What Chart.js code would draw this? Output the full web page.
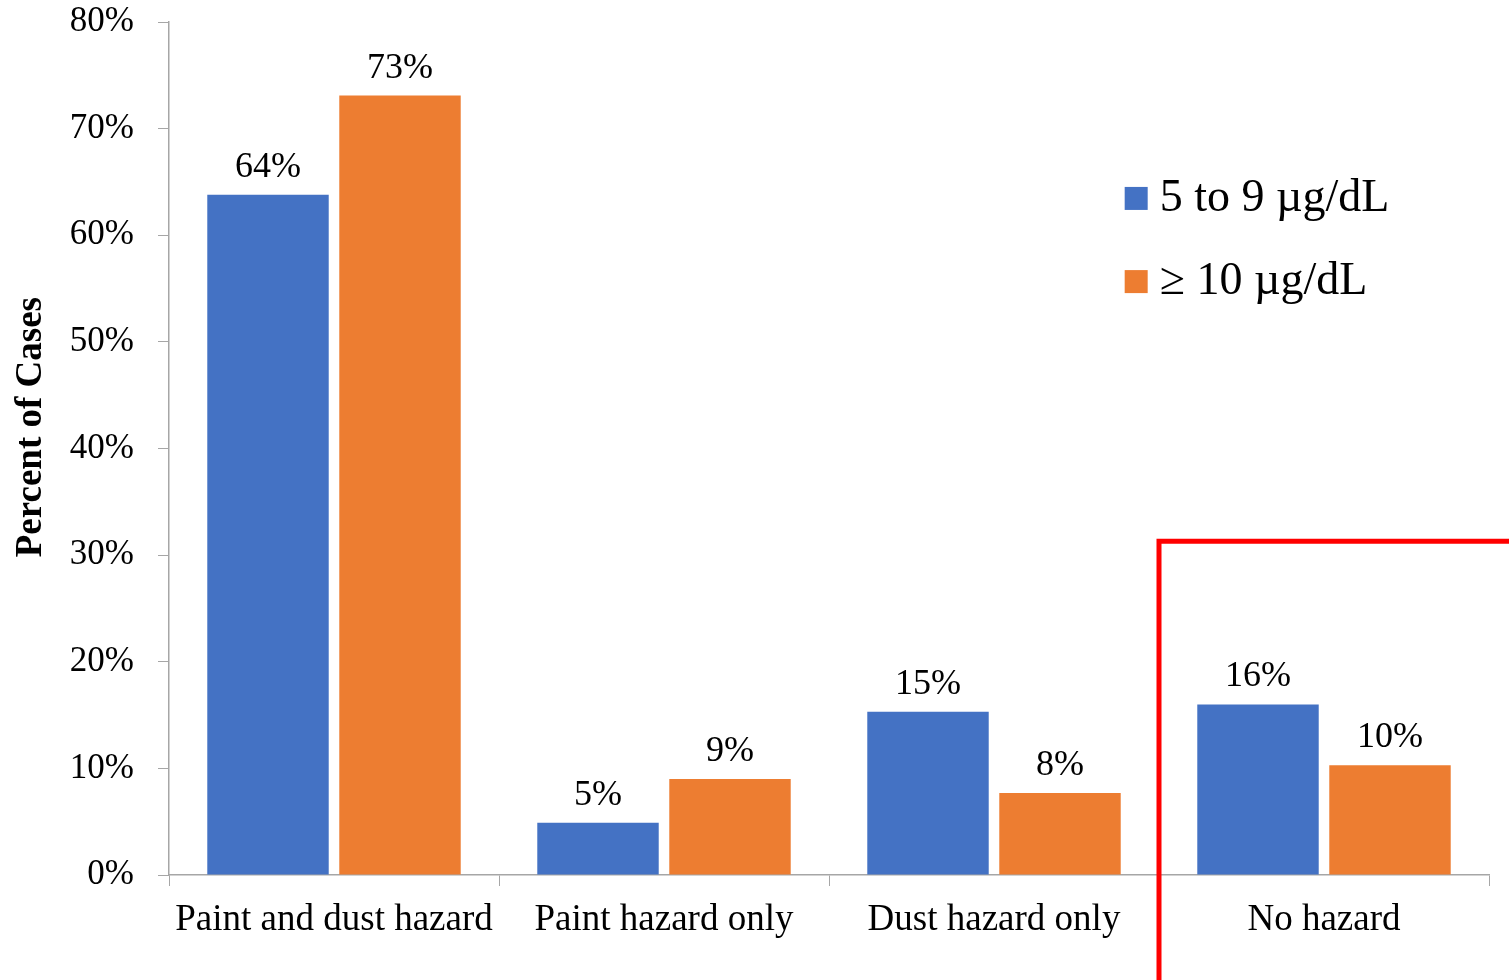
<!DOCTYPE html>
<html lang="en">
<head>
    <meta charset="UTF-8">
    <title>Percent of Cases by Hazard Type</title>
    <script src="https://cdn.jsdelivr.net/npm/chart.js"></script>
    <style>
        body, html {
            margin: 0;
            padding: 0;
            background-color: #ffffff;
        }
        .chart-container {
            position: relative;
            width: 1509px;
            height: 980px;
        }
    </style>
</head>
<body>
    <div class="chart-container">
        <canvas id="hazardChart" width="1509" height="980"></canvas>
    </div>

    <script>
        // Data
        const categories = ['Paint and dust hazard', 'Paint hazard only', 'Dust hazard only', 'No hazard'];
        const seriesNames = ['5 to 9 \u00b5g/dL', '\u2265 10 \u00b5g/dL'];
        const lowLevel = [63.8, 4.9, 15.3, 16.0];
        const highLevel = [73.1, 9.0, 7.7, 10.3];
        const lowLabels = ['64%', '5%', '15%', '16%'];
        const highLabels = ['73%', '9%', '8%', '10%'];
        const yTicks = [0, 10, 20, 30, 40, 50, 60, 70, 80];
        const yTitle = 'Percent of Cases';
        const highlightCategory = 3;   // boxed category
        const highlightTop = 31.3;     // top of the red box, in percent

        const serif = "'Liberation Serif', 'Times New Roman', serif";
        const axisGray = '#a6a6a6';

        // Percent labels above each bar
        const barLabels = {
            id: 'barLabels',
            afterDatasetsDraw(chart) {
                const ctx = chart.ctx;
                const texts = [lowLabels, highLabels];
                ctx.save();
                ctx.font = '36px ' + serif;
                ctx.fillStyle = '#000';
                ctx.textAlign = 'center';
                ctx.textBaseline = 'alphabetic';
                chart.data.datasets.forEach((ds, i) => {
                    chart.getDatasetMeta(i).data.forEach((bar, j) => {
                        ctx.fillText(texts[i][j], bar.x, bar.y - 18);
                    });
                });
                ctx.restore();
            }
        };

        // Legend in the upper right, plus the rotated axis title
        const sideLegend = {
            id: 'sideLegend',
            afterDraw(chart) {
                const ctx = chart.ctx;
                const area = chart.chartArea;
                const y = chart.scales.y;
                const x0 = area.left + (area.right - area.left) * 0.724;
                const rows = [y.getPixelForValue(63.5), y.getPixelForValue(55.7)];
                ctx.save();
                ctx.font = '46px ' + serif;
                ctx.textBaseline = 'middle';
                chart.data.datasets.forEach((ds, i) => {
                    ctx.fillStyle = ds.backgroundColor;
                    ctx.fillRect(x0, rows[i] - 11, 23, 23);
                    ctx.fillStyle = '#000';
                    ctx.fillText(ds.label, x0 + 35, rows[i] + 1);
                });

                ctx.translate(31, y.getPixelForValue(42));
                ctx.rotate(-Math.PI / 2);
                ctx.font = 'bold 37px ' + serif;
                ctx.textAlign = 'center';
                ctx.fillText(yTitle, 0, 0);
                ctx.restore();
            }
        };

        // Red box round the last category
        const highlightBox = {
            id: 'highlightBox',
            afterDraw(chart) {
                const ctx = chart.ctx;
                const x = chart.scales.x;
                const y = chart.scales.y;
                const left = (x.getPixelForValue(highlightCategory - 1) + x.getPixelForValue(highlightCategory)) / 2;
                const top = y.getPixelForValue(highlightTop);
                ctx.save();
                ctx.strokeStyle = '#ff0000';
                ctx.lineWidth = 5;
                ctx.beginPath();
                ctx.moveTo(left, chart.height + 10);
                ctx.lineTo(left, top);
                ctx.lineTo(chart.width + 10, top);
                ctx.stroke();
                ctx.restore();
            }
        };

        const ctx = document.getElementById('hazardChart').getContext('2d');
        const hazardChart = new Chart(ctx, {
            type: 'bar',
            data: {
                labels: categories,
                datasets: [
                    {
                        label: seriesNames[0],
                        data: lowLevel,
                        backgroundColor: '#4472c4',
                        categoryPercentage: 0.8,
                        barPercentage: 0.92
                    },
                    {
                        label: seriesNames[1],
                        data: highLevel,
                        backgroundColor: '#ed7d31',
                        categoryPercentage: 0.8,
                        barPercentage: 0.92
                    }
                ]
            },
            options: {
                responsive: false,
                maintainAspectRatio: false,
                animation: false,
                layout: {
                    padding: { left: 0, top: 22, right: 20, bottom: 0 }
                },
                scales: {
                    x: {
                        grid: {
                            offset: true,
                            drawOnChartArea: false,
                            drawTicks: true,
                            tickLength: 11,
                            color: axisGray
                        },
                        border: { color: axisGray, width: 1.5 },
                        ticks: {
                            color: '#000',
                            font: { family: serif, size: 37 },
                            padding: 12,
                            maxRotation: 0,
                            autoSkip: false
                        },
                        afterFit(scale) { scale.height = 105; }
                    },
                    y: {
                        min: 0,
                        max: 80,
                        afterBuildTicks(scale) {
                            scale.ticks = yTicks.map(v => ({ value: v }));
                        },
                        grid: {
                            drawOnChartArea: false,
                            drawTicks: true,
                            tickLength: 11,
                            color: axisGray
                        },
                        border: { color: axisGray, width: 1.5 },
                        ticks: {
                            color: '#000',
                            font: { family: serif, size: 35 },
                            padding: 24,
                            callback: v => v + '%'
                        },
                        afterFit(scale) {
                            scale.width = 169;
                            scale.paddingTop = 0;
                            scale.paddingBottom = 0;
                        }
                    }
                },
                plugins: {
                    legend: { display: false },
                    tooltip: { enabled: false }
                }
            },
            plugins: [barLabels, sideLegend, highlightBox]
        });
    </script>
</body>
</html>
